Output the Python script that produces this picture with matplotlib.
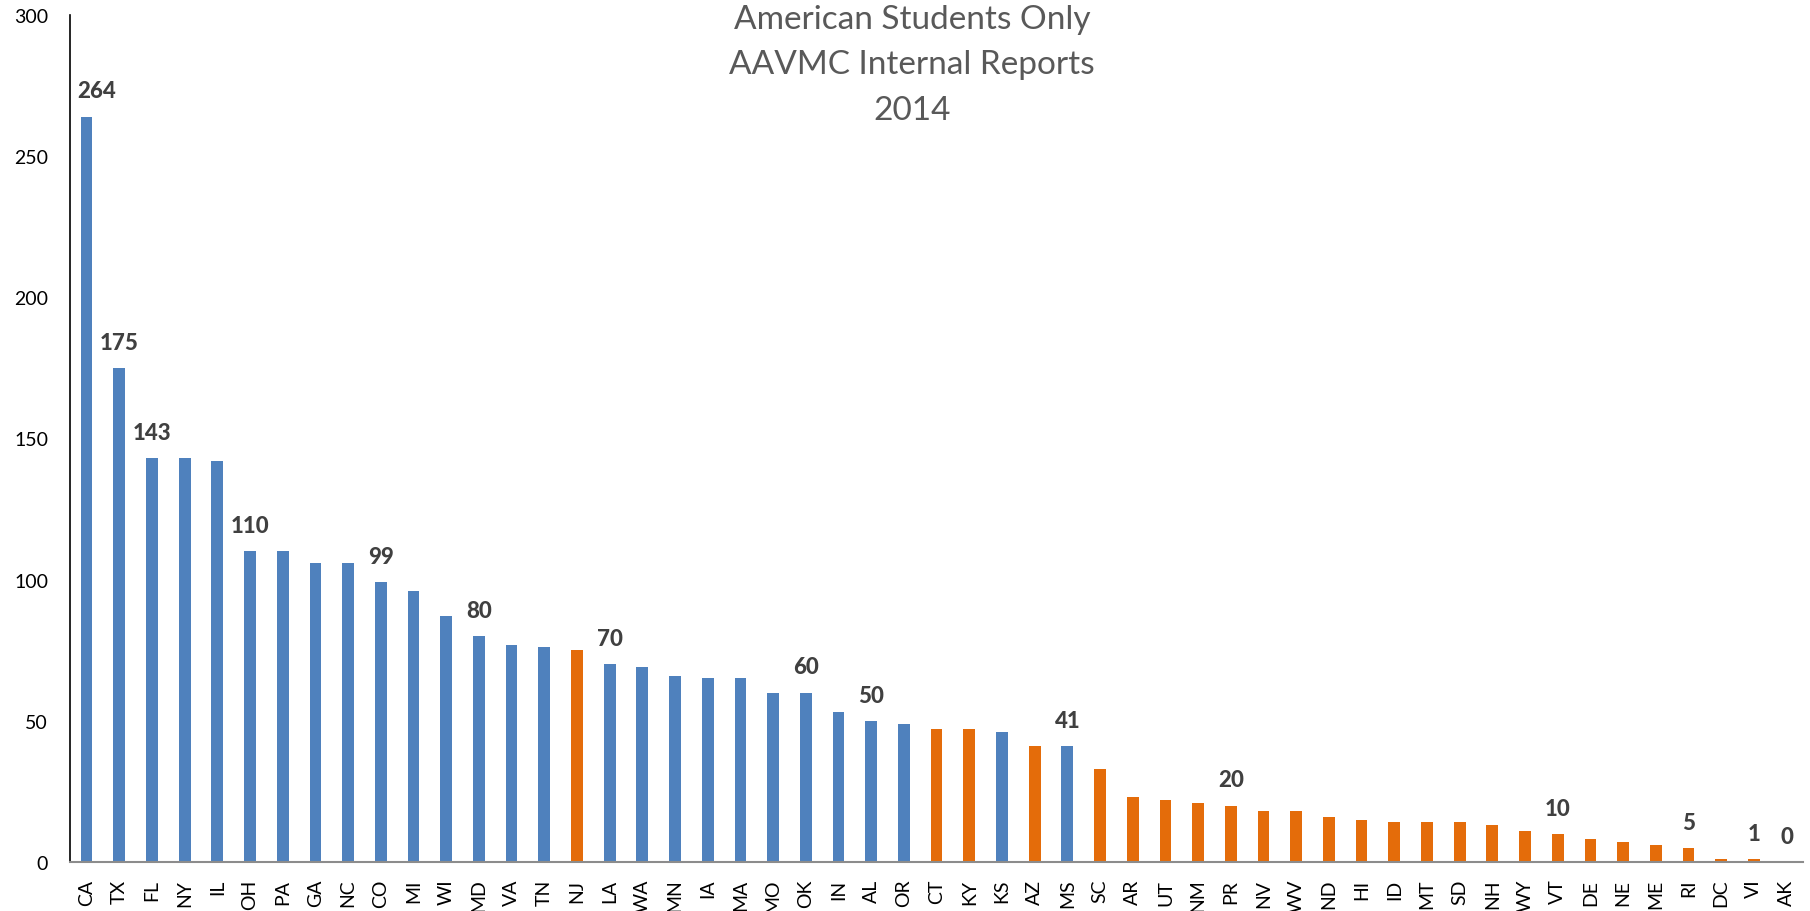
import matplotlib
matplotlib.use("Agg")
import matplotlib.pyplot as plt

plt.rcParams['font.family'] = ['Lato', 'DejaVu Sans']

states = ['CA', 'TX', 'FL', 'NY', 'IL', 'OH', 'PA', 'GA', 'NC', 'CO', 'MI', 'WI', 'MD',
          'VA', 'TN', 'NJ', 'LA', 'WA', 'MN', 'IA', 'MA', 'MO', 'OK', 'IN', 'AL', 'OR',
          'CT', 'KY', 'KS', 'AZ', 'MS', 'SC', 'AR', 'UT', 'NM', 'PR', 'NV', 'WV', 'ND',
          'HI', 'ID', 'MT', 'SD', 'NH', 'WY', 'VT', 'DE', 'NE', 'ME', 'RI', 'DC', 'VI', 'AK']
students = [264, 175, 143, 143, 142, 110, 110, 106, 106, 99, 96, 87, 80,
            77, 76, 75, 70, 69, 66, 65, 65, 60, 60, 53, 50, 49,
            47, 47, 46, 41, 41, 33, 23, 22, 21, 20, 18, 18, 16,
            15, 14, 14, 14, 13, 11, 10, 8, 7, 6, 5, 1, 1, 0]
# states without an in-state veterinary school are drawn in orange
no_school = ['NJ', 'CT', 'KY', 'AZ', 'SC', 'AR', 'UT', 'NM', 'PR', 'NV', 'WV', 'ND',
             'HI', 'ID', 'MT', 'SD', 'NH', 'WY', 'VT', 'DE', 'NE', 'ME', 'RI', 'DC', 'VI']
labelled = ['CA', 'TX', 'FL', 'OH', 'CO', 'MD', 'LA', 'OK', 'AL', 'MS', 'PR', 'VT', 'RI', 'VI', 'AK']

blue = '#4F81BD'
orange = '#E46C0A'
colors = [orange if s in no_school else blue for s in states]

fig = plt.figure(figsize=(18.1, 9.12), dpi=100)
ax = fig.add_axes([0.0388, 0.0537, 0.9573, 0.9288])
x = range(len(states))
ax.bar(x, students, width=0.36, color=colors)

for i, (s, v) in enumerate(zip(states, students)):
    if s in labelled:
        dx = 7 if s == 'CA' else 0
        ax.annotate(str(v), (i, v), xytext=(dx, 11), textcoords='offset points',
                    ha='center', va='bottom', fontsize=16, fontweight='black', color='#404040')

ax.set_xlim(-0.5, len(states) - 0.5)
ax.set_ylim(0, 300)
ax.set_yticks(range(0, 301, 50))
ax.set_xticks(list(x))
ax.set_xticklabels(states, rotation=90)
ax.tick_params(axis='y', length=0, pad=16, labelsize=14)
ax.tick_params(axis='x', length=0, pad=12, labelsize=14)
for sp in ['top', 'right']:
    ax.spines[sp].set_visible(False)
ax.spines['left'].set_color('black')
ax.spines['left'].set_linewidth(1.2)
ax.spines['bottom'].set_color('#8C8C8C')
ax.spines['bottom'].set_linewidth(1.5)

fig.text(0.504, 0.995, 'American Students Only\nAAVMC Internal Reports\n2014', ha='center', va='top',
         fontsize=24, color='#595959', linespacing=1.65)

fig.savefig('out.png', dpi=100)
